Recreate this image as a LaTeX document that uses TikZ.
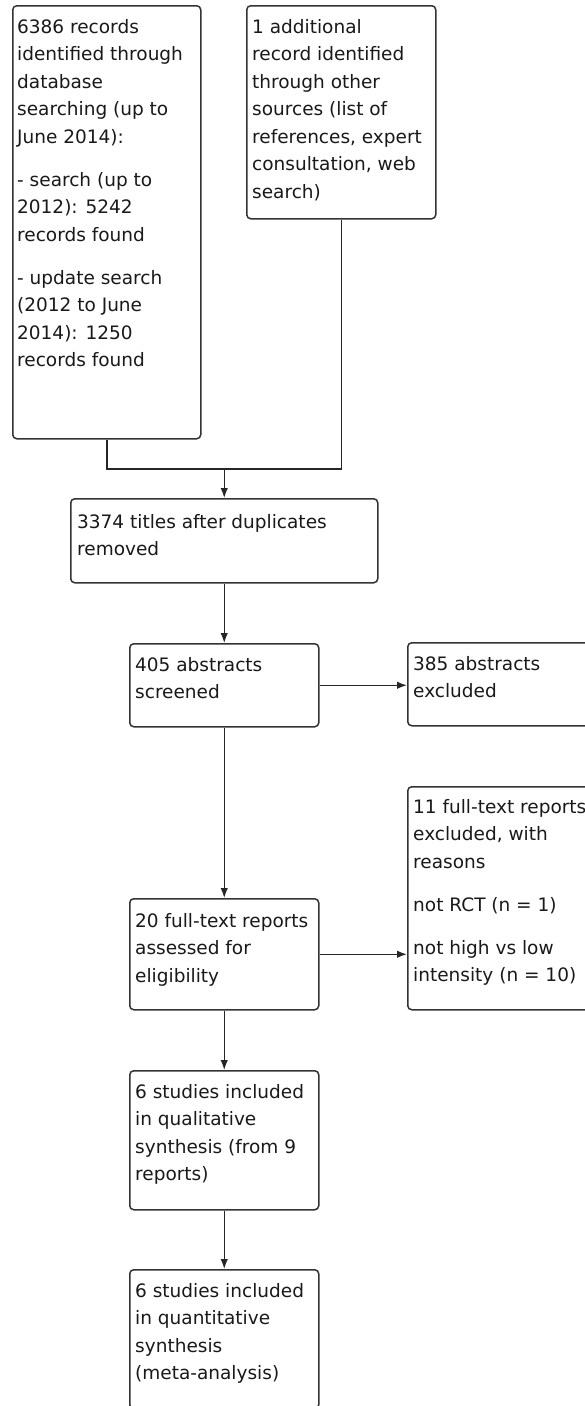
\documentclass[tikz,border=0pt]{standalone}
\usepackage{fontspec}
\setmainfont{DejaVu Sans}
\usetikzlibrary{arrows.meta}
\begin{document}
\begin{tikzpicture}[x=1pt,y=-1pt,
  box/.style={draw=black!80, line width=1.5pt, rounded corners=4pt, inner sep=0pt, anchor=north west, fill=white},
  txt/.style={inner sep=0pt, anchor=north west, align=left, text=black!90,
    font=\fontsize{18.5}{27.5}\selectfont},
  conn/.style={draw=black!85, line width=1.5pt},
  arr/.style={conn, -{Latex[length=10pt,width=7.5pt]}}]
\useasboundingbox (0,0) rectangle (585,1406);
\fill[white] (0,0) rectangle (585,1406);
% boxes
\node[box, minimum width=188pt, minimum height=433pt] (b1) at (12,5) {};
\node[box, minimum width=189pt, minimum height=213pt] (b2) at (246,5) {};
\node[box, minimum width=307pt, minimum height=84pt] (b3) at (70,498) {};
\node[box, minimum width=189pt, minimum height=83pt] (b4) at (129,643) {};
\node[box, minimum width=189pt, minimum height=83pt] (b5) at (407,642) {};
\node[box, minimum width=189pt, minimum height=111pt] (b6) at (129,898) {};
\node[box, minimum width=189pt, minimum height=223pt] (b7) at (407,786) {};
\node[box, minimum width=189pt, minimum height=139pt] (b8) at (129,1070) {};
\node[box, minimum width=189pt, minimum height=139pt] (b9) at (129,1269) {};
% texts
\node[txt] (t1) at ([xshift=5pt,yshift=-14pt]b1.north west) {\rule{0pt}{14pt}6386 records\\identified through\\database\\searching (up to\\June 2014):\\[15.5pt]- search (up to\\2012): 5242\\records found\\[15.5pt]- update search\\(2012 to June\\2014): 1250\\records found};
\node[txt] (t2) at ([xshift=6pt,yshift=-14pt]b2.north west) {\rule{0pt}{14pt}1 additional\\record identified\\through other\\sources (list of\\references, expert\\consultation, web\\search)};
\node[txt] (t3) at ([xshift=7pt,yshift=-16pt]b3.north west) {\rule{0pt}{14pt}3374 titles after duplicates\\removed};
\node[txt] (t4) at ([xshift=6pt,yshift=-14pt]b4.north west) {\rule{0pt}{14pt}405 abstracts\\screened};
\node[txt] (t5) at ([xshift=6pt,yshift=-14pt]b5.north west) {\rule{0pt}{14pt}385 abstracts\\excluded};
\node[txt] (t6) at ([xshift=6pt,yshift=-15pt]b6.north west) {\rule{0pt}{14pt}20 full-text reports\\assessed for\\eligibility};
\node[txt] (t7) at ([xshift=6pt,yshift=-13pt]b7.north west) {\rule{0pt}{14pt}11 full-text reports\\excluded, with\\reasons\\[15.5pt]not RCT (n = 1)\\[15.5pt]not high vs low\\intensity (n = 10)};
\node[txt] (t8) at ([xshift=6pt,yshift=-14pt]b8.north west) {\rule{0pt}{14pt}6 studies included\\in qualitative\\synthesis (from 9\\reports)};
\node[txt] (t9) at ([xshift=6pt,yshift=-14pt]b9.north west) {\rule{0pt}{14pt}6 studies included\\in quantitative\\synthesis\\(meta-analysis)};
% connectors
\coordinate (j) at (0,469);
\draw[conn] (b1.south) |- (j -| b2.south) -- (b2.south);
\draw[arr] (b3.north |- j) -- (b3.north);
\draw[arr] (b3.south) -- (b4.north);
\draw[arr] (b4.east) -- (b4.east -| b5.west);
\draw[arr] (b4.south) -- (b6.north);
\draw[arr] (b6.east) -- (b6.east -| b7.west);
\draw[arr] (b6.south) -- (b8.north);
\draw[arr] (b8.south) -- (b9.north);
\end{tikzpicture}
\end{document}
